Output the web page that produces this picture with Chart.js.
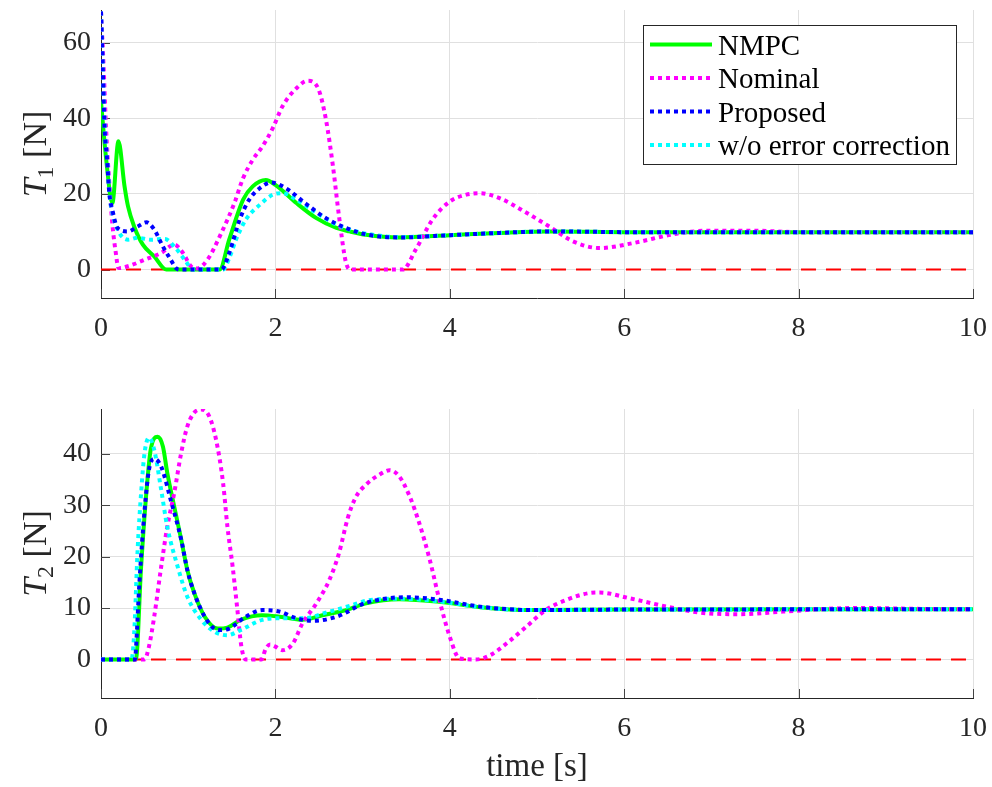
<!DOCTYPE html>
<html>
<head>
<meta charset="utf-8">
<script src="https://cdn.jsdelivr.net/npm/chart.js@4.4.1/dist/chart.umd.min.js"></script>
<style>
  body { margin: 0; background: #fff; }
  .box { position: absolute; left: 0; width: 992px; }
</style>
</head>
<body>
<div class="box" style="top:0;height:345px"><canvas id="chartT1"></canvas></div>
<div class="box" style="top:345px;height:442px"><canvas id="chartT2"></canvas></div>
<script>
// tick labels
const timeTicks = [0, 2, 4, 6, 8, 10];
const t1Ticks = [0, 20, 40, 60];
const t2Ticks = [0, 10, 20, 30, 40];
const seriesLabels = ['NMPC', 'Nominal', 'Proposed', 'w/o error correction'];

// reference line at 0 N
const zeroLine = [[0, 0], [10, 0]];

// T1 series, [time s, force N]
const nmpcT1 = [[0,44.4],[0.06,29],[0.13,17.6],[0.2,33.9],[0.27,22],[0.31,16.7],[0.38,11.4],[0.48,6.6],[0.61,3.5],[0.75,0],[1.36,0],[1.47,7.9],[1.63,18.5],[1.74,22],[1.89,23.7],[2.0,22.4],[2.24,17.6],[2.47,13.6],[2.7,11],[2.85,10.1],[3.04,9.2],[3.42,8.5],[4.0,9.1],[4.57,9.7],[5.14,10.1],[6.0,9.9],[7.0,9.85],[10,9.85]];
const nominalT1 = [[0,68.2],[0.03,53.6],[0.057,37.8],[0.095,22.9],[0.133,11.4],[0.17,4.4],[0.2,0.4],[0.31,0.9],[0.5,2.6],[0.69,4.4],[0.84,6.6],[0.94,4.4],[1.03,0.9],[1.1,0.3],[1.22,2.6],[1.38,9.7],[1.53,17.6],[1.63,24.2],[1.74,29],[1.85,32.5],[1.97,37.4],[2.08,43.1],[2.24,47.9],[2.37,49.9],[2.49,47.9],[2.58,39.6],[2.66,27.3],[2.73,14],[2.81,1.8],[2.87,0],[3.46,0],[3.61,5.3],[3.8,13.2],[4.0,18],[4.19,19.8],[4.34,20.2],[4.57,18.9],[4.88,15],[5.14,11.4],[5.41,7.5],[5.72,5.7],[6.1,7],[6.6,9.5],[6.98,10.3],[7.44,10.3],[8.0,9.9],[9.0,9.85],[10,9.85]];
const proposedT1 = [[0,68.2],[0.02,53.6],[0.04,37.8],[0.07,29],[0.095,20.2],[0.13,15.8],[0.19,11],[0.31,10.1],[0.42,11.4],[0.52,12.5],[0.61,10.6],[0.71,6.1],[0.8,2.6],[0.86,0.4],[0.9,0],[1.38,0],[1.47,4.4],[1.59,13.2],[1.7,18.5],[1.82,21.5],[1.95,23],[2.12,21.5],[2.35,17.4],[2.58,13.6],[2.81,11],[3.04,9.3],[3.42,8.5],[4.0,9.1],[4.57,9.7],[5.14,10.1],[6.0,9.9],[7.0,9.85],[10,9.85]];
const woCorrT1 = [[0,68.2],[0.02,53],[0.045,37],[0.075,28],[0.1,19.5],[0.13,15],[0.21,9.7],[0.31,7.9],[0.42,8.4],[0.57,7.9],[0.73,8.1],[0.84,6.1],[0.96,2.6],[1.03,0.4],[1.06,0],[1.4,0],[1.47,3],[1.55,8],[1.66,13.2],[1.82,17.1],[1.97,19.8],[2.08,20.2],[2.24,18.5],[2.47,15],[2.7,11.9],[2.85,10.6],[3.04,9.5],[3.42,8.6],[4.0,9.1],[4.57,9.7],[5.14,10.1],[6.0,9.9],[7.0,9.85],[10,9.85]];

// T2 series, [time s, force N]
const nmpcT2 = [[0,0],[0.4,0],[0.46,18],[0.52,32.4],[0.57,40.8],[0.65,43.3],[0.71,41.4],[0.76,36.3],[0.84,29.7],[0.92,23.3],[0.99,17.4],[1.07,12.9],[1.19,8.3],[1.34,6.0],[1.45,6.2],[1.6,7.7],[1.85,8.6],[2.05,8.3],[2.31,7.7],[2.54,8.6],[2.81,9.6],[3.04,10.9],[3.42,11.7],[3.88,11.2],[4.38,10.1],[4.95,9.6],[6.0,9.7],[10,9.75]];
const nominalT2 = [[0,0],[0.5,0],[0.55,2.5],[0.61,8.3],[0.69,18],[0.76,25.8],[0.84,32.4],[0.92,40.2],[0.99,45.3],[1.07,48],[1.15,48.6],[1.24,47.3],[1.32,42.7],[1.4,34.3],[1.45,25.8],[1.51,18],[1.56,10.3],[1.61,2.5],[1.66,0],[1.84,0],[1.89,2.1],[1.94,2.9],[2.0,2.5],[2.08,1.8],[2.2,3.1],[2.31,7],[2.47,10.9],[2.62,15.5],[2.73,20.7],[2.83,27.5],[2.92,31.5],[3.04,34],[3.19,35.9],[3.31,36.8],[3.42,35.6],[3.54,31.7],[3.65,26.5],[3.77,19.4],[3.88,11.6],[4.0,4.4],[4.11,0.2],[4.3,0],[4.46,0.8],[4.65,3.1],[4.88,6.4],[5.1,9.6],[5.34,11.6],[5.6,12.9],[5.72,13],[6.06,11.9],[6.48,10.3],[6.87,9.1],[7.32,8.8],[7.82,9.3],[8.4,9.9],[8.7,10],[9.5,9.8],[10,9.75]];
const proposedT2 = [[0,0],[0.39,0],[0.4,1.8],[0.44,14.8],[0.5,29],[0.55,36.9],[0.61,39],[0.69,37.5],[0.8,31],[0.92,23.3],[0.99,17.4],[1.07,12.9],[1.19,8.3],[1.3,6],[1.38,5.7],[1.47,6],[1.66,8.3],[1.85,9.6],[2.05,9.3],[2.24,8],[2.43,7.5],[2.7,8.3],[3.04,11],[3.5,12.1],[3.88,11.6],[4.38,10.2],[4.95,9.6],[6.0,9.7],[10,9.75]];
const woCorrT2 = [[0,0],[0.35,0],[0.38,5],[0.42,21.3],[0.46,32.4],[0.5,40.2],[0.55,43.1],[0.61,40.8],[0.69,33],[0.76,25.8],[0.88,18],[0.99,12.2],[1.15,7.7],[1.3,5.4],[1.45,4.7],[1.6,5.7],[1.85,7.7],[2.05,8],[2.31,8],[2.62,9.3],[2.85,10.4],[3.04,11.4],[3.42,11.8],[3.88,11.3],[4.38,10.1],[4.95,9.6],[6.0,9.7],[10,9.75]];

const FONT = '"Liberation Serif", "Times New Roman", serif';
const AXIS_COLOR = '#262626';
const GRID_COLOR = '#e0e0e0';

// line look for each series (colour, dash, draw order; lower order is on top)
const lineStyles = {
  'NMPC': { color: '#00ff00', dash: [], order: 4 },
  'Nominal': { color: '#ff00ff', dash: [4, 4], order: 3 },
  'Proposed': { color: '#0000ff', dash: [4, 4], order: 1 },
  'w/o error correction': { color: '#00ffff', dash: [4, 4], order: 2 }
};

function toXY(pairs) {
  return pairs.map(p => ({ x: p[0], y: p[1] }));
}

function makeDatasets(seriesList) {
  let sets = seriesList.map((pairs, i) => {
    const label = seriesLabels[i];
    const st = lineStyles[label];
    return {
      label: label,
      data: toXY(pairs),
      borderColor: st.color,
      borderWidth: 4,
      borderDash: st.dash,
      order: st.order,
      pointRadius: 0,
      cubicInterpolationMode: 'monotone'
    };
  });
  //red dashed zero line under everything
  sets.push({
    label: 'zero',
    data: toXY(zeroLine),
    borderColor: '#ff0000',
    borderWidth: 2,
    borderDash: [15, 10],
    order: 5,
    pointRadius: 0
  });
  return sets;
}

//MATLAB style ticks pointing into the plot
const innerTicks = {
  id: 'innerTicks',
  beforeDatasetsDraw(chart) {
    const { ctx, chartArea, scales } = chart;
    ctx.save();
    ctx.strokeStyle = '#444';
    ctx.lineWidth = 1;
    ctx.beginPath();
    scales.x.ticks.forEach(t => {
      const px = Math.round(scales.x.getPixelForValue(t.value)) + 0.5;
      ctx.moveTo(px, chartArea.bottom);
      ctx.lineTo(px, chartArea.bottom - 9);
    });
    scales.y.ticks.forEach(t => {
      const py = Math.round(scales.y.getPixelForValue(t.value)) + 0.5;
      ctx.moveTo(chartArea.left, py);
      ctx.lineTo(chartArea.left + 9, py);
    });
    ctx.stroke();
    ctx.restore();
  }
};

//y axis title with italic T and a subscript
const yTitle = {
  id: 'yTitle',
  afterDraw(chart, args, opts) {
    const { ctx, chartArea } = chart;
    const cy = (chartArea.top + chartArea.bottom) / 2;
    const big = `italic ${opts.size}px ${FONT}`;
    const small = `${Math.round(opts.size * 0.7)}px ${FONT}`;
    const reg = `${opts.size}px ${FONT}`;
    ctx.save();
    ctx.translate(opts.x, cy);
    ctx.rotate(-Math.PI / 2);
    ctx.fillStyle = AXIS_COLOR;
    ctx.textBaseline = 'alphabetic';
    ctx.font = big; const wT = ctx.measureText('T').width;
    ctx.font = small; const wS = ctx.measureText(opts.sub).width;
    ctx.font = reg; const wR = ctx.measureText(' [N]').width;
    let x = -(wT + wS + wR) / 2;
    ctx.font = big; ctx.fillText('T', x, 0); x += wT;
    ctx.font = small; ctx.fillText(opts.sub, x, opts.size * 0.22); x += wS;
    ctx.font = reg; ctx.fillText(' [N]', x, 0);
    ctx.restore();
  }
};

//legend box drawn inside the upper plot
const boxLegend = {
  id: 'boxLegend',
  afterDraw(chart, args, opts) {
    if (!opts.show) return;
    const ctx = chart.ctx;
    ctx.save();
    ctx.fillStyle = '#fff';
    ctx.fillRect(opts.left, opts.top, opts.width, opts.height);
    ctx.strokeStyle = AXIS_COLOR;
    ctx.lineWidth = 1;
    ctx.strokeRect(opts.left + 0.5, opts.top + 0.5, opts.width, opts.height);
    seriesLabels.forEach((label, i) => {
      const ds = chart.data.datasets.find(d => d.label === label);
      const y = opts.top + opts.firstRow + i * opts.rowH;
      ctx.beginPath();
      ctx.setLineDash(ds.borderDash);
      ctx.strokeStyle = ds.borderColor;
      ctx.lineWidth = ds.borderWidth;
      ctx.moveTo(opts.left + 7, y);
      ctx.lineTo(opts.left + 69, y);
      ctx.stroke();
      ctx.setLineDash([]);
      ctx.fillStyle = '#000';
      ctx.font = `${opts.size}px ${FONT}`;
      ctx.textBaseline = 'alphabetic';
      ctx.fillText(label, opts.left + 75, y + 10);
    });
    ctx.restore();
  }
};

function makeChart(id, seriesList, cfg) {
  const ctx = document.getElementById(id).getContext('2d');
  return new Chart(ctx, {
    type: 'line',
    data: { datasets: makeDatasets(seriesList) },
    options: {
      responsive: true,
      maintainAspectRatio: false,
      animation: false,
      layout: { padding: { left: 0, right: 19, top: cfg.padTop, bottom: 0 } },
      plugins: {
        legend: { display: false },
        tooltip: { enabled: false },
        yTitle: { x: 46, size: 34, sub: cfg.sub },
        boxLegend: { show: cfg.legend, left: 643, top: 25, width: 313, height: 139, firstRow: 19.5, rowH: 33.5, size: 29 }
      },
      scales: {
        x: {
          type: 'linear',
          min: 0,
          max: 10,
          afterBuildTicks: s => { s.ticks = timeTicks.map(v => ({ value: v })); },
          afterFit: s => { s.height = cfg.xHeight; s.paddingLeft = 0; s.paddingRight = 0; },
          ticks: { font: { family: FONT, size: 28 }, color: AXIS_COLOR, padding: 14, maxRotation: 0 },
          grid: { color: GRID_COLOR, drawTicks: false },
          border: { color: AXIS_COLOR, width: 1 },
          title: {
            display: cfg.xTitle !== '',
            text: cfg.xTitle,
            font: { family: FONT, size: 33 },
            color: AXIS_COLOR,
            padding: { top: 0, bottom: 0 }
          }
        },
        y: {
          type: 'linear',
          min: cfg.yMin,
          max: cfg.yMax,
          afterBuildTicks: s => { s.ticks = cfg.yTicks.map(v => ({ value: v })); },
          afterFit: s => { s.width = 101; s.paddingTop = 0; s.paddingBottom = 0; },
          ticks: { font: { family: FONT, size: 28 }, color: AXIS_COLOR, padding: 10 },
          grid: { color: GRID_COLOR, drawTicks: false },
          border: { color: AXIS_COLOR, width: 1 }
        }
      }
    },
    plugins: [innerTicks, yTitle, boxLegend]
  });
}

makeChart('chartT1', [nmpcT1, nominalT1, proposedT1, woCorrT1], {
  padTop: 10, xHeight: 47, yMin: -7.5, yMax: 68.6, yTicks: t1Ticks, sub: '1', legend: true, xTitle: ''
});
makeChart('chartT2', [nmpcT2, nominalT2, proposedT2, woCorrT2], {
  padTop: 64, xHeight: 89, yMin: -7.5, yMax: 48.7, yTicks: t2Ticks, sub: '2', legend: false, xTitle: 'time [s]'
});
</script>
</body>
</html>
